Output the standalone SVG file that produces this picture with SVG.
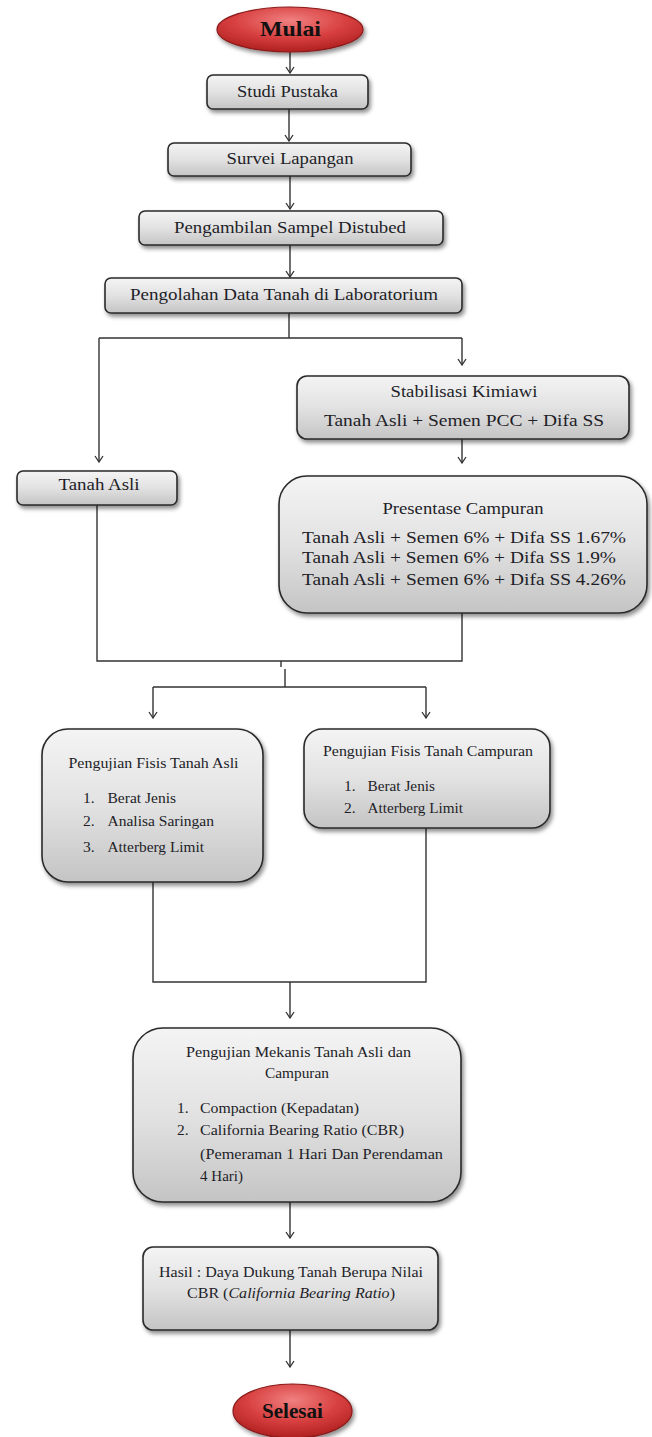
<svg xmlns="http://www.w3.org/2000/svg" width="652" height="1437" viewBox="0 0 652 1437">
<defs>
<linearGradient id="boxg" x1="0" y1="0" x2="0" y2="1">
<stop offset="0" stop-color="#f4f4f4"/>
<stop offset="0.5" stop-color="#e2e2e2"/>
<stop offset="1" stop-color="#c4c4c4"/>
</linearGradient>
<radialGradient id="redg" cx="0.5" cy="0.3" r="0.7">
<stop offset="0" stop-color="#f08080"/>
<stop offset="0.55" stop-color="#d84040"/>
<stop offset="1" stop-color="#b02020"/>
</radialGradient>
<filter id="sh" x="-10%" y="-10%" width="125%" height="135%">
<feDropShadow dx="2" dy="3" stdDeviation="2" flood-color="#000" flood-opacity="0.45"/>
</filter>
<marker id="arr" viewBox="0 0 10 10" refX="9" refY="5" markerWidth="10" markerHeight="10" markerUnits="userSpaceOnUse" orient="auto">
<path d="M3,1 L9,5 L3,9" fill="none" stroke="#333" stroke-width="1.3"/>
</marker>
</defs>
<style>
.box{fill:url(#boxg);stroke:#2a2a2a;stroke-width:1.6;filter:url(#sh)}
.ell{fill:url(#redg);stroke:#8a1a1a;stroke-width:1.2;filter:url(#sh)}
.t{font-family:"Liberation Serif","Times New Roman",serif;font-size:16px;fill:#1e1e28}
.c{text-anchor:middle}
.b{font-weight:bold;font-size:21px;fill:#111}
.l{font-size:15.5px}
.con{fill:none;stroke:#333;stroke-width:1.4}
.ar{marker-end:url(#arr)}
</style>
<rect width="652" height="1437" fill="#fff"/>

<g id="connectors">
<path class="con ar" d="M290,52 V73"/>
<path class="con ar" d="M289,109 V141"/>
<path class="con ar" d="M290,176 V209"/>
<path class="con ar" d="M290,245 V277"/>
<path class="con" d="M289,313 V338 M99,338 H462"/>
<path class="con ar" d="M99,338 V462"/>
<path class="con ar" d="M462,338 V365"/>
<path class="con ar" d="M462,439 V463"/>
<path class="con" d="M97,505 V661 H462 V613"/>
<path class="con" d="M281,661 V667"/>
<path class="con" d="M285,669 V687 M153,687 H426"/>
<path class="con ar" d="M153,687 V718"/>
<path class="con ar" d="M426,687 V718"/>
<path class="con" d="M153,882 V982 H426 V828"/>
<path class="con ar" d="M290,982 V1018"/>
<path class="con ar" d="M290,1202 V1238"/>
<path class="con ar" d="M290,1330 V1367"/>
</g>

<g id="mulai">
<ellipse class="ell" cx="290" cy="29.5" rx="73" ry="22.5"/>
<text class="t c b" x="290.5" y="36" textLength="61" lengthAdjust="spacingAndGlyphs">Mulai</text>
</g>

<g id="studi-pustaka">
<rect class="box" x="207" y="75" width="161" height="34" rx="6"/>
<text class="t c" x="287.5" y="97" textLength="101" lengthAdjust="spacingAndGlyphs">Studi Pustaka</text>
</g>

<g id="survei-lapangan">
<rect class="box" x="168" y="143" width="243" height="33" rx="6"/>
<text class="t c" x="290" y="164" textLength="127" lengthAdjust="spacingAndGlyphs">Survei Lapangan</text>
</g>

<g id="pengambilan-sampel">
<rect class="box" x="139" y="211" width="304" height="34" rx="6"/>
<text class="t c" x="290" y="233" textLength="232" lengthAdjust="spacingAndGlyphs">Pengambilan  Sampel  Distubed</text>
</g>

<g id="pengolahan-data">
<rect class="box" x="105" y="278" width="357" height="35" rx="6"/>
<text class="t c" x="284" y="300" textLength="308" lengthAdjust="spacingAndGlyphs">Pengolahan  Data  Tanah  di Laboratorium</text>
</g>

<g id="stabilisasi-kimiawi">
<rect class="box" x="297" y="376" width="332" height="63" rx="10"/>
<text class="t c" x="464" y="397" textLength="147" lengthAdjust="spacingAndGlyphs">Stabilisasi  Kimiawi</text>
<text class="t c" x="464" y="426" textLength="280" lengthAdjust="spacingAndGlyphs">Tanah  Asli  + Semen PCC + Difa  SS</text>
</g>

<g id="tanah-asli">
<rect class="box" x="17" y="471" width="160" height="34" rx="6"/>
<text class="t c" x="99" y="490" textLength="81" lengthAdjust="spacingAndGlyphs">Tanah  Asli</text>
</g>

<g id="presentase-campuran">
<rect class="box" x="279" y="476" width="368" height="137" rx="28"/>
<text class="t c" x="463" y="514" textLength="161" lengthAdjust="spacingAndGlyphs">Presentase  Campuran</text>
<text class="t" x="302" y="543" textLength="324" lengthAdjust="spacingAndGlyphs">Tanah  Asli  + Semen 6% + Difa  SS 1.67%</text>
<text class="t" x="302" y="563" textLength="314" lengthAdjust="spacingAndGlyphs">Tanah  Asli  + Semen 6% + Difa  SS 1.9%</text>
<text class="t" x="302" y="585" textLength="324" lengthAdjust="spacingAndGlyphs">Tanah  Asli  + Semen 6% + Difa  SS 4.26%</text>
</g>

<g id="fisis-tanah-asli">
<rect class="box" x="42" y="729" width="221" height="153" rx="26"/>
<text class="t c l" x="153.5" y="768" textLength="170" lengthAdjust="spacingAndGlyphs">Pengujian  Fisis  Tanah Asli</text>
<text class="t l" x="83" y="803">1.</text>
<text class="t l" x="107.5" y="803" textLength="68.5" lengthAdjust="spacingAndGlyphs">Berat Jenis</text>
<text class="t l" x="83" y="826">2.</text>
<text class="t l" x="107.5" y="826" textLength="106.5" lengthAdjust="spacingAndGlyphs">Analisa  Saringan</text>
<text class="t l" x="83" y="852">3.</text>
<text class="t l" x="107.5" y="852" textLength="96.5" lengthAdjust="spacingAndGlyphs">Atterberg Limit</text>
</g>

<g id="fisis-tanah-campuran">
<rect class="box" x="304" y="729" width="246" height="99" rx="18"/>
<text class="t c l" x="428" y="756" textLength="210" lengthAdjust="spacingAndGlyphs">Pengujian  Fisis  Tanah  Campuran</text>
<text class="t l" x="344" y="791">1.</text>
<text class="t l" x="367.5" y="791" textLength="67.5" lengthAdjust="spacingAndGlyphs">Berat Jenis</text>
<text class="t l" x="344" y="813">2.</text>
<text class="t l" x="367.5" y="813" textLength="95.5" lengthAdjust="spacingAndGlyphs">Atterberg Limit</text>
</g>

<g id="mekanis">
<rect class="box" x="133" y="1028" width="328" height="174" rx="30"/>
<text class="t c l" x="298.5" y="1057" textLength="225" lengthAdjust="spacingAndGlyphs">Pengujian  Mekanis  Tanah  Asli  dan</text>
<text class="t c l" x="297" y="1078" textLength="64" lengthAdjust="spacingAndGlyphs">Campuran</text>
<text class="t l" x="177" y="1113">1.</text>
<text class="t l" x="200" y="1113" textLength="159" lengthAdjust="spacingAndGlyphs">Compaction  (Kepadatan)</text>
<text class="t l" x="177" y="1135">2.</text>
<text class="t l" x="200" y="1135" textLength="204" lengthAdjust="spacingAndGlyphs">California  Bearing  Ratio  (CBR)</text>
<text class="t l" x="200" y="1159" textLength="243" lengthAdjust="spacingAndGlyphs">(Pemeraman  1  Hari  Dan  Perendaman</text>
<text class="t l" x="200" y="1181" textLength="43" lengthAdjust="spacingAndGlyphs">4 Hari)</text>
</g>

<g id="hasil">
<rect class="box" x="143" y="1247" width="295" height="83" rx="10"/>
<text class="t c l" x="291" y="1277" textLength="264" lengthAdjust="spacingAndGlyphs">Hasil : Daya  Dukung  Tanah  Berupa  Nilai</text>
<text class="t l" x="187" y="1298" textLength="208" lengthAdjust="spacingAndGlyphs">CBR (<tspan font-style="italic">California Bearing Ratio</tspan>)</text>
</g>

<g id="selesai">
<ellipse class="ell" cx="292.5" cy="1411" rx="59.5" ry="27"/>
<text class="t c b" x="292.5" y="1418" textLength="61" lengthAdjust="spacingAndGlyphs">Selesai</text>
</g>
</svg>
